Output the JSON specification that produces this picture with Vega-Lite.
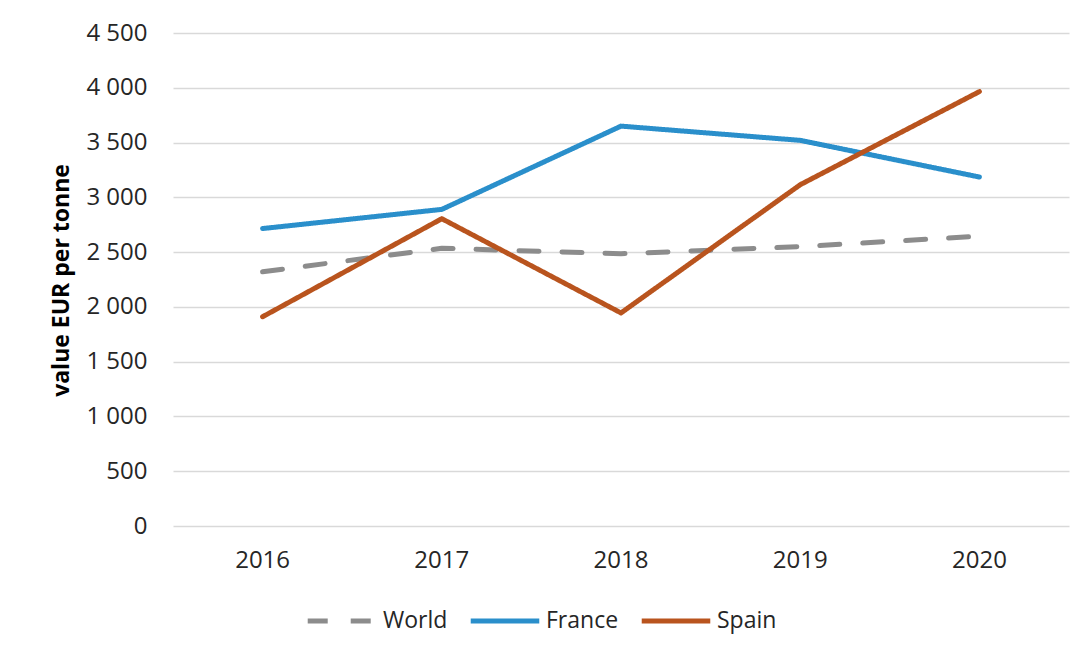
{
  "$schema": "https://vega.github.io/schema/vega-lite/v6.json",
  "width": 896,
  "height": 493,
  "autosize": {"type": "none"},
  "padding": {"left": 173, "top": 33, "right": 18, "bottom": 132},
  "background": "white",
  "config": {
    "view": {"stroke": null},
    "font": "Open Sans"
  },
  "data": {
    "values": [
      {"year": "2016", "series": "World", "value": 2320},
      {"year": "2017", "series": "World", "value": 2535},
      {"year": "2018", "series": "World", "value": 2485},
      {"year": "2019", "series": "World", "value": 2550},
      {"year": "2020", "series": "World", "value": 2645},
      {"year": "2016", "series": "France", "value": 2715},
      {"year": "2017", "series": "France", "value": 2890},
      {"year": "2018", "series": "France", "value": 3650},
      {"year": "2019", "series": "France", "value": 3520},
      {"year": "2020", "series": "France", "value": 3185},
      {"year": "2016", "series": "Spain", "value": 1910},
      {"year": "2017", "series": "Spain", "value": 2805},
      {"year": "2018", "series": "Spain", "value": 1945},
      {"year": "2019", "series": "Spain", "value": 3115},
      {"year": "2020", "series": "Spain", "value": 3965}
    ]
  },
  "mark": {"type": "line", "strokeWidth": 5, "strokeCap": "round", "strokeJoin": "round"},
  "encoding": {
    "x": {
      "field": "year",
      "type": "ordinal",
      "scale": {"type": "band", "paddingInner": 0, "paddingOuter": 0},
      "axis": {
        "title": null,
        "labelAngle": 0,
        "labelFontSize": 24,
        "labelColor": "#262626",
        "labelPadding": 22,
        "ticks": false,
        "tickSize": 0,
        "domain": false,
        "grid": false
      }
    },
    "y": {
      "field": "value",
      "type": "quantitative",
      "scale": {"domain": [0, 4500], "nice": false},
      "axis": {
        "title": "value EUR per tonne",
        "titleFontSize": 23,
        "titleFontWeight": "bold",
        "titleColor": "#000000",
        "titleX": -100,
        "titleY": 247,
        "titleAngle": -90,
        "titleAlign": "center",
        "titleBaseline": "bottom",
        "values": [0, 500, 1000, 1500, 2000, 2500, 3000, 3500, 4000, 4500],
        "labelExpr": "replace(format(datum.value, ','), ',', ' ')",
        "labelFontSize": 24,
        "labelColor": "#262626",
        "labelPadding": 26,
        "ticks": false,
        "tickSize": 0,
        "domain": false,
        "grid": true,
        "gridColor": "#d9d9d9",
        "gridWidth": 1.5
      }
    },
    "color": {
      "field": "series",
      "type": "nominal",
      "scale": {"domain": ["World", "France", "Spain"], "range": ["#8c8c8c", "#2a8fcb", "#b9541e"]},
      "legend": {
        "title": null,
        "orient": "none",
        "direction": "horizontal",
        "legendX": 132,
        "legendY": 551,
        "symbolType": "stroke",
        "symbolSize": 4700,
        "symbolStrokeWidth": 5,
        "labelFontSize": 23,
        "labelColor": "#262626",
        "labelOffset": 4,
        "columnPadding": 12
      }
    },
    "strokeDash": {
      "field": "series",
      "type": "nominal",
      "scale": {"domain": ["World", "France", "Spain"], "range": [[20, 23], [1, 0], [1, 0]]},
      "legend": null
    }
  }
}
